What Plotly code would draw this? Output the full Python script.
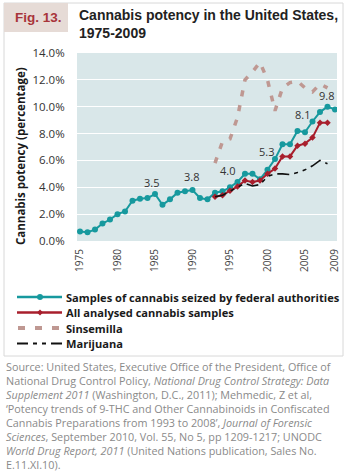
import plotly.graph_objects as go

years = list(range(1975, 2010))
seized = [0.7, 0.65, 0.85, 1.3, 1.6, 2.0, 2.2, 3.0, 3.15, 3.2, 3.5, 2.7, 3.1, 3.6, 3.7,
          3.8, 3.2, 3.1, 3.6, 3.7, 4.0, 4.4, 5.0, 5.0, 4.6, 5.3, 6.1, 7.2, 7.2, 8.2,
          8.1, 8.9, 9.6, 10.0, 9.8]
years_m = list(range(1993, 2009))
all_samples = [3.3, 3.4, 3.75, 4.05, 4.5, 4.4, 4.5, 5.0, 5.4, 6.3, 6.3, 7.1, 7.25, 7.7, 8.8, 8.8]
sinsemilla = [5.8, 7.4, 7.6, 9.2, 12.0, 12.6, 13.3, 12.0, 9.7, 11.4, 11.8, 11.9, 11.4, 11.1, 11.7, 11.4]
marijuana = [3.3, 3.4, 3.7, 4.0, 4.3, 4.1, 4.2, 4.8, 5.0, 5.0, 4.95, 5.1, 5.3, 5.6, 6.0, 5.75]
label_years = [1985, 1990, 1995, 2000, 2005, 2009]
label_text = ["3.5", "3.8", "4.0", "5.3", "8.1", "9.8"]
ytick_vals = [0, 2, 4, 6, 8, 10, 12, 14]
ytick_text = ["0.0%", "2.0%", "4.0%", "6.0%", "8.0%", "10.0%", "12.0%", "14.0%"]
xtick_vals = [1975, 1980, 1985, 1990, 1995, 2000, 2005, 2009]
legend_names = ["Samples of cannabis seized by federal authorities",
                "All analysed cannabis samples", "Sinsemilla", "Marijuana"]
source_lines = [
    "Source: United States, Executive Office of the President, Office of",
    "National Drug Control Policy, <i>National Drug Control Strategy: Data</i>",
    "<i>Supplement 2011</i> (Washington, D.C., 2011); Mehmedic, Z et al,",
    "‘Potency trends of 9-THC and Other Cannabinoids in Confiscated",
    "Cannabis Preparations from 1993 to 2008’, <i>Journal of Forensic</i>",
    "<i>Sciences</i>, September 2010, Vol. 55, No 5, pp 1209-1217; UNODC",
    "<i>World Drug Report, 2011</i> (United Nations publication, Sales No.",
    "E.11.XI.10).",
]

TEAL = "#17999e"
RED = "#a81f2d"
SINS = "#bf9892"
BLACK = "#111111"
SINS_DASH = "7px,10px"
MARI_DASH = "11px,5px,4px,5px,4px,5px"

# label offsets in pixels (placement only)
label_dx = [-3, -1, -2, -1, -2, -8]
label_dy = [12, 13.5, 16.5, 18, 18, 14]

# plot-area geometry (pixels) for placing non-data items
L, R, T, B = 77, 337, 53, 241
def px(x):
    return (x - L) / (R - L)
def py(y):
    return 1 - (y - T) / (B - T)

fig = go.Figure()
fig.add_trace(go.Scatter(x=years, y=seized, mode="lines+markers", name=legend_names[0],
                         line=dict(color=TEAL, width=2), marker=dict(size=6, color=TEAL)))
fig.add_trace(go.Scatter(x=years_m, y=all_samples, mode="lines+markers", name=legend_names[1],
                         line=dict(color=RED, width=2),
                         marker=dict(size=5, color=RED, symbol="diamond")))
fig.add_trace(go.Scatter(x=years_m, y=sinsemilla, mode="lines", name=legend_names[2],
                         line=dict(color=SINS, width=3.5, dash="6px,9px")))
fig.add_trace(go.Scatter(x=years_m, y=marijuana, mode="lines", name=legend_names[3],
                         line=dict(color=BLACK, width=1.6, dash="12px,5px,4px,5px,4px,5px")))

for yr, txt, dx, dy in zip(label_years, label_text, label_dx, label_dy):
    fig.add_annotation(x=yr, y=seized[years.index(yr)], text=txt, showarrow=False,
                       yshift=dy, xshift=dx,
                       font=dict(family="Open Sans", size=11, color="#333333"))

fig.update_layout(
    width=350, height=472,
    margin=dict(l=L, r=350 - R, t=T, b=472 - B, autoexpand=False),
    paper_bgcolor="white", plot_bgcolor="#d9e7e9",
    showlegend=False,
    xaxis=dict(range=[1974.6, 2009.27], tickvals=xtick_vals, ticktext=[str(v) for v in xtick_vals],
               tickangle=-90, showgrid=False, zeroline=False, showline=False, automargin=False,
               tickfont=dict(family="Open Sans", size=10, color="#444444"),
               ticks="outside", ticklen=3, tickcolor="rgba(0,0,0,0)"),
    yaxis=dict(range=[0, 14], tickvals=ytick_vals, ticktext=ytick_text,
               showgrid=True, gridcolor="white", gridwidth=1, zeroline=False, showline=False,
               automargin=False,
               tickfont=dict(family="Open Sans", size=11.5, color="#333333"),
               ticks="outside", ticklen=9, tickcolor="rgba(0,0,0,0)"),
)

# y-axis title as annotation
fig.add_annotation(xref="paper", yref="paper", x=px(20), y=py(156),
                   text="<b>Cannabis potency (percentage)</b>", textangle=-90, showarrow=False,
                   xanchor="center", yanchor="middle",
                   font=dict(family="Open Sans", size=11.5, color="#1a1a1a"))

# custom legend
rows = [297, 312.5, 328, 343.5]
x0, x1, xt = 17, 62, 65
fig.add_shape(type="line", xref="paper", yref="paper", x0=px(x0), x1=px(x1), y0=py(rows[0]), y1=py(rows[0]),
              line=dict(color=TEAL, width=2.5))
fig.add_shape(type="circle", xref="paper", yref="paper", x0=px(37), x1=px(43),
              y0=py(rows[0] + 3), y1=py(rows[0] - 3), line=dict(width=0), fillcolor=TEAL)
fig.add_shape(type="line", xref="paper", yref="paper", x0=px(x0), x1=px(x1), y0=py(rows[1]), y1=py(rows[1]),
              line=dict(color=RED, width=2.5))
fig.add_shape(type="path", xref="paper", yref="paper",
              path=f"M {px(40)},{py(rows[1]-3)} L {px(43)},{py(rows[1])} L {px(40)},{py(rows[1]+3)} L {px(37)},{py(rows[1])} Z",
              line=dict(width=0), fillcolor=RED)
fig.add_shape(type="line", xref="paper", yref="paper", x0=px(18), x1=px(62), y0=py(rows[2]), y1=py(rows[2]),
              line=dict(color=SINS, width=4, dash=SINS_DASH))
fig.add_shape(type="line", xref="paper", yref="paper", x0=px(x0), x1=px(x1), y0=py(rows[3]), y1=py(rows[3]),
              line=dict(color=BLACK, width=2, dash=MARI_DASH))
for r, name in zip(rows, legend_names):
    fig.add_annotation(xref="paper", yref="paper", x=px(xt), y=py(r), text=f"<b>{name}</b>",
                       showarrow=False, xanchor="left", yanchor="middle", borderpad=0,
                       font=dict(family="Open Sans", size=11.1, color="#1a1a1a"))

# frame and figure label
fig.add_shape(type="rect", xref="paper", yref="paper",
              x0=px(4), x1=px(343), y0=py(356), y1=py(3),
              line=dict(color="#d8d8d8", width=1), fillcolor="rgba(0,0,0,0)", layer="below")
fig.add_shape(type="rect", xref="paper", yref="paper",
              x0=px(4), x1=px(68), y0=py(32), y1=py(3),
              line=dict(width=0), fillcolor="#e6dbd6", layer="below")
fig.add_annotation(xref="paper", yref="paper", x=px(38), y=py(17),
                   text="<b>Fig. 13.</b>", showarrow=False, xanchor="center", yanchor="middle",
                   font=dict(family="Liberation Sans", size=13.5, color="#a8343a"))
fig.add_annotation(xref="paper", yref="paper", x=0, y=py(5),
                   text="<b>Cannabis potency in the United States,<br>1975-2009</b>",
                   showarrow=False, xanchor="left", yanchor="top", align="left",
                   font=dict(family="Liberation Sans", size=14, color="#222222"))

# source note, one annotation per line
for i, line in enumerate(source_lines):
    fig.add_annotation(xref="paper", yref="paper", x=px(5), y=py(366 + i * 14.05),
                       text=line, showarrow=False, xanchor="left", yanchor="middle", align="left",
                       borderpad=0, font=dict(family="Open Sans", size=10.8, color="#8a8a8a"))

fig.write_html("out.html")
